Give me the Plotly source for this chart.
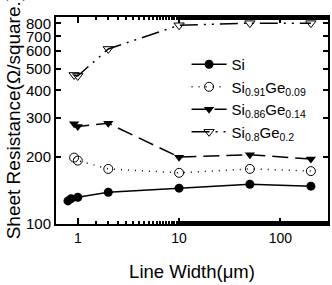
import plotly.graph_objects as go

si_x = [0.8, 0.86, 1.0, 2, 10, 50, 200]
si_y = [127, 130, 132, 139, 145, 151, 148]

sige09_x = [0.92, 1.0, 2, 10, 50, 200]
sige09_y = [199, 193, 177, 170, 177, 173]

sige14_x = [0.92, 1.0, 2, 10, 50, 200]
sige14_y = [283, 275, 284, 200, 205, 196]

sige20_x = [0.92, 1.0, 2, 10, 50, 200]
sige20_y = [469, 464, 614, 785, 802, 802]

y_ticks = [100, 200, 300, 400, 500, 600, 700, 800]
x_ticks = [1, 10, 100]

fig = go.Figure()
fig.add_trace(go.Scatter(x=si_x, y=si_y, mode="lines+markers", name="Si",
                         line=dict(color="black", width=1.5),
                         marker=dict(symbol="circle", size=9, color="black")))
fig.add_trace(go.Scatter(x=sige09_x, y=sige09_y, mode="lines+markers",
                         name="Si<sub>0.91</sub>Ge<sub>0.09</sub>",
                         line=dict(color="black", width=1.5, dash="1px,6px"),
                         marker=dict(symbol="circle-open", size=9, color="black", line=dict(width=1))))
fig.add_trace(go.Scatter(x=sige14_x, y=sige14_y, mode="lines+markers",
                         name="Si<sub>0.86</sub>Ge<sub>0.14</sub>",
                         line=dict(color="black", width=1.5, dash="16px,7px"),
                         marker=dict(symbol="triangle-down", size=9, color="black")))
fig.add_trace(go.Scatter(x=sige20_x, y=sige20_y, mode="lines+markers",
                         name="Si<sub>0.8</sub>Ge<sub>0.2</sub>",
                         line=dict(color="black", width=1.5, dash="18px,6px,2px,6px,2px,6px"),
                         marker=dict(symbol="triangle-down-open", size=9, color="black", line=dict(width=1))))

font = dict(family="Liberation Sans, Arial, sans-serif", color="black")

fig.update_layout(
    width=332, height=285,
    margin=dict(l=56, r=2, t=17, b=61),
    paper_bgcolor="white", plot_bgcolor="white",
    font=dict(**font, size=14),
    showlegend=True,
    legend=dict(x=0.48, y=0.85, xanchor="left", yanchor="top",
                bgcolor="rgba(0,0,0,0)", font=dict(**font, size=15),
                tracegroupgap=0, itemwidth=35),
    xaxis=dict(type="log", range=[-0.215, 2.47],
               tickvals=x_ticks, ticktext=[str(v) for v in x_ticks],
               ticks="inside", ticklen=6, tickwidth=1.5, tickcolor="black",
               minor=dict(ticks="inside", ticklen=3, tickcolor="black", showgrid=False),
               showline=True, linecolor="black", linewidth=2, mirror="allticks",
               showgrid=False, zeroline=False,
               title=dict(text="Line Width(μm)", font=dict(**font, size=18.5), standoff=20),
               tickfont=dict(**font, size=14)),
    yaxis=dict(type="log", range=[2, 2.932],
               tickvals=y_ticks, ticktext=[str(v) for v in y_ticks],
               ticks="inside", ticklen=5, tickwidth=1.5, tickcolor="black",
               showline=True, linecolor="black", linewidth=2, mirror="allticks",
               showgrid=False, zeroline=False,
               tickfont=dict(**font, size=15)),
    annotations=[dict(text="Sheet Resistance(Ω/square.)", textangle=-90,
                      xref="paper", yref="paper", x=(13 - 56) / 274, y=(224 - 117) / 207,
                      xanchor="center", yanchor="middle", showarrow=False,
                      font=dict(**font, size=19))],
)

fig.write_html("out.html")
